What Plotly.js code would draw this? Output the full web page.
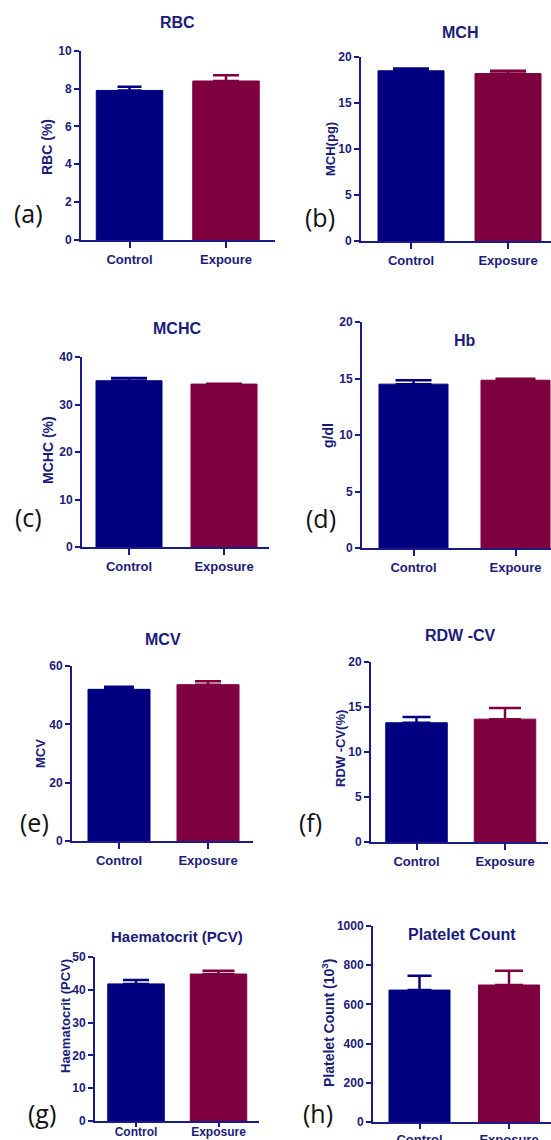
<!DOCTYPE html>
<html><head><meta charset="utf-8">
<script src="https://cdn.plot.ly/plotly-3.0.1.min.js"></script>
<style>html,body{margin:0;padding:0;background:#fff}</style>
</head><body>
<div id="chart" style="width:551px;height:1140px"></div>
<script>
// ---- data ----
const titles = ["RBC","MCH","MCHC","Hb","MCV","RDW -CV","Haematocrit (PCV)","Platelet Count"];
const yTitles = ["RBC (%)","MCH(pg)","MCHC (%)","g/dl","MCV","RDW -CV(%)","Haematocrit (PCV)","Platelet Count (10<sup>3</sup>)"];
const panelLetters = ["(a)","(b)","(c)","(d)","(e)","(f)","(g)","(h)"];
const catsA = ["Control","Expoure"];
const catsB = ["Control","Exposure"];
const catsC = ["Control","Exposure"];
const catsD = ["Control","Expoure"];
const catsE = ["Control","Exposure"];
const catsF = ["Control","Exposure"];
const catsG = ["Control","Exposure"];
const catsH = ["Control","Exposure"];
const rbcMean = [7.9, 8.4],      rbcSem = [0.2, 0.3];
const mchMean = [18.5, 18.2],    mchSem = [0.25, 0.3];
const mchcMean = [35.0, 34.3],   mchcSem = [0.6, 0.05];
const hbMean = [14.5, 14.85],    hbSem = [0.35, 0.12];
const mcvMean = [52.0, 53.6],    mcvSem = [0.9, 1.2];
const rdwMean = [13.25, 13.65],  rdwSem = [0.65, 1.25];
const pcvMean = [41.8, 44.8],    pcvSem = [1.2, 1.0];
const pltMean = [673, 699],      pltSem = [73, 73];
const yMax = [10, 20, 40, 20, 60, 20, 50, 1000];
const yStep = [2, 5, 10, 5, 20, 5, 10, 200];

const cats = [catsA,catsB,catsC,catsD,catsE,catsF,catsG,catsH];
const means = [rbcMean,mchMean,mchcMean,hbMean,mcvMean,rdwMean,pcvMean,pltMean];
const sems = [rbcSem,mchSem,mchcSem,hbSem,mcvSem,rdwSem,pcvSem,pltSem];

// ---- geometry (pixels) ----
const W = 551, H = 1140;
const geo = [
 {x0:81,  x1:275, c0:129.5, c1:226,   w:66.5, top:50.7, bot:240, cap:[12,13], tx:177, ty:23,  lx:28,  ly:213, ytx:47,  yty:147, ts:16, yts:14, xtl:6, xso:0,  xfs:13},
 {x0:361, x1:551, c0:411,   c1:508,   w:66,   top:57,   bot:241, cap:[18,18], tx:460, ty:33,  lx:320, ly:217, ytx:331, yty:149, ts:16, yts:13, xtl:6, xso:0,  xfs:13},
 {x0:82,  x1:269, c0:129,   c1:224,   w:66,   top:357,  bot:547, cap:[18,18], tx:177, ty:328, lx:28,  ly:517, ytx:48,  yty:450, ts:16, yts:14, xtl:6, xso:0,  xfs:13},
 {x0:362, x1:551, c0:413.5, c1:515.5, w:69,   top:322,  bot:548, cap:[18,20], tx:465, ty:341, lx:321, ly:518, ytx:328, yty:436, ts:16, yts:14, xtl:6, xso:0,  xfs:13},
 {x0:72,  x1:253, c0:119,   c1:208,   w:62,   top:666,  bot:841, cap:[15,13], tx:163, ty:639, lx:34,  ly:822, ytx:41,  yty:754, ts:16, yts:13, xtl:6, xso:0,  xfs:13},
 {x0:371, x1:548, c0:416.5, c1:505,   w:61.5, top:662,  bot:842, cap:[14,16], tx:460, ty:635, lx:311, ly:822, ytx:340, yty:749, ts:16, yts:13, xtl:6, xso:0,  xfs:13},
 {x0:95,  x1:259, c0:136,   c1:218.5, w:56.5, top:957,  bot:1121,cap:[13,16], tx:177, ty:936, lx:42,  ly:1113,ytx:65,  yty:1016,ts:15, yts:13, xtl:4, xso:-5, xfs:12},
 {x0:373, x1:551, c0:419.5, c1:509,   w:61,   top:926,  bot:1122,cap:[12,14], tx:462, ty:934, lx:318, ly:1113,ytx:328, yty:1023,ts:16, yts:14, xtl:5, xso:-1, xfs:13}
];

const navy = "#000080", maroon = "#7F003F", txt = "#1b1b7a", axc = "#1a1a8a";
const fontB = "Liberation Sans, Arial, sans-serif";
const colors = [navy, maroon];

const data = [];
const layout = {width:W, height:H, margin:{l:0,r:0,t:0,b:0}, showlegend:false,
  paper_bgcolor:"#fff", plot_bgcolor:"rgba(0,0,0,0)", annotations:[], bargap:0};

geo.forEach((g, i) => {
  const n = i + 1;
  const xa = n === 1 ? "xaxis" : "xaxis" + n;
  const ya = n === 1 ? "yaxis" : "yaxis" + n;
  const xr = n === 1 ? "x" : "x" + n;
  const yr = n === 1 ? "y" : "y" + n;
  const span = g.c1 - g.c0;
  for (let k = 0; k < 2; k++) {
    data.push({type:"bar", x:[cats[i][k]], y:[means[i][k]], xaxis:xr, yaxis:yr,
      width:[g.w/span], marker:{color:colors[k], line:{color:colors[k], width:1}},
      error_y:{type:"data", symmetric:false, array:[sems[i][k]], arrayminus:[0],
        color:colors[k], thickness:2.5, width:g.cap[k]},
      hoverinfo:"x+y"});
  }
  layout[xa] = {domain:[g.x0/W, g.x1/W], type:"category", categoryorder:"array", categoryarray:cats[i],
    range:[-(g.c0-g.x0)/span, 1 + (g.x1-g.c1)/span], anchor:yr,
    showline:true, linecolor:axc, linewidth:2, ticks:"outside", ticklen:g.xtl, tickwidth:2, tickcolor:axc,
    ticklabelstandoff:g.xso,
    showgrid:false, zeroline:false, fixedrange:true,
    tickfont:{family:fontB, size:g.xfs, color:txt, weight:"bold"}};
  layout[ya] = {domain:[1 - g.bot/H, 1 - g.top/H], range:[0, yMax[i]], dtick:yStep[i], tick0:0, anchor:xr,
    showline:true, linecolor:axc, linewidth:2, ticks:"outside", ticklen:5, tickwidth:2, tickcolor:axc,
    showgrid:false, zeroline:false, fixedrange:true,
    tickfont:{family:fontB, size:12, color:txt, weight:"bold"}};
  layout.annotations.push({text:titles[i], x:g.tx/W, y:1-g.ty/H, xref:"paper", yref:"paper",
    xanchor:"center", yanchor:"middle", showarrow:false,
    font:{family:fontB, size:g.ts, color:txt, weight:"bold"}});
  layout.annotations.push({text:yTitles[i], x:g.ytx/W, y:1-g.yty/H, xref:"paper", yref:"paper",
    xanchor:"center", yanchor:"middle", showarrow:false, textangle:-90,
    font:{family:fontB, size:g.yts, color:txt, weight:"bold"}});
  layout.annotations.push({text:panelLetters[i], x:g.lx/W, y:1-g.ly/H, xref:"paper", yref:"paper",
    xanchor:"center", yanchor:"middle", showarrow:false,
    font:{family:"Open Sans, Noto Sans, sans-serif", size:25, color:"#111"}});
});

Plotly.newPlot("chart", data, layout, {displayModeBar:false, staticPlot:true});
</script>
</body></html>
